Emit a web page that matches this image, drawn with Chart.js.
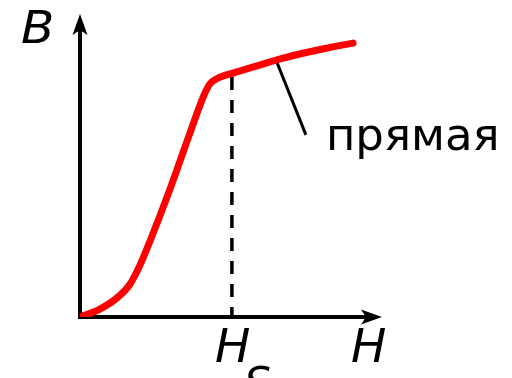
<!DOCTYPE html>
<html>
<head>
<meta charset="utf-8">
<script src="https://cdn.jsdelivr.net/npm/chart.js@4"></script>
<style>
html,body{margin:0;padding:0;background:#fff;}
#wrap{width:512px;height:378px;}
</style>
</head>
<body>
<div id="wrap"><canvas id="c" width="512" height="378"></canvas></div>
<script>
// Magnetization curve B(H), arbitrary units (0..100 on each axis)
const H_values = [0, 6.6, 12.6, 16.6, 19.9, 23.2, 29.8, 36.4, 41.1, 43.0, 45.4, 50.7, 58.3, 64.9, 72.8, 81.1, 90.4];
const B_values = [0, 2.6, 6.6, 10.9, 17.2, 25.1, 42.2, 60.7, 73.3, 76.9, 78.7, 80.5, 82.8, 84.8, 86.8, 88.6, 90.4];
const H_S = 50.3;
const B_at_HS = 79.8;
const pointerFrom = [64.9, 84.8];
const pointerTo = [74.8, 60.1];
const labelText = "прямая";
const axisLabels = { B: "B", H: "H", HS: "H", HSsub: "S" };

const curve = H_values.map((h, i) => ({ x: h, y: B_values[i] }));
const dashed = [{ x: H_S, y: 0 }, { x: H_S, y: B_at_HS }];
const pointer = [{ x: pointerFrom[0], y: pointerFrom[1] }, { x: pointerTo[0], y: pointerTo[1] }];

const axesPlugin = {
  id: 'axesArrows',
  beforeDatasetsDraw(chart) {
    const ctx = chart.ctx;
    const xs = chart.scales.x, ys = chart.scales.y;
    const x0 = xs.getPixelForValue(0), y0 = ys.getPixelForValue(0);
    const xEnd = xs.getPixelForValue(100), yEnd = ys.getPixelForValue(100);
    ctx.save();
    ctx.strokeStyle = '#000';
    ctx.fillStyle = '#000';
    ctx.lineWidth = 4;
    ctx.beginPath();
    ctx.moveTo(x0, y0 + 2);
    ctx.lineTo(x0, yEnd + 12);
    ctx.moveTo(x0 - 2, y0);
    ctx.lineTo(xEnd - 12, y0);
    ctx.stroke();
    // Y arrow
    ctx.beginPath();
    ctx.moveTo(x0, yEnd);
    ctx.lineTo(x0 + 7.5, yEnd + 21);
    ctx.lineTo(x0, yEnd + 16);
    ctx.lineTo(x0 - 7.5, yEnd + 21);
    ctx.closePath();
    ctx.fill();
    // X arrow
    ctx.beginPath();
    ctx.moveTo(xEnd, y0);
    ctx.lineTo(xEnd - 21, y0 - 7.5);
    ctx.lineTo(xEnd - 16, y0);
    ctx.lineTo(xEnd - 21, y0 + 7.5);
    ctx.closePath();
    ctx.fill();
    ctx.restore();
  },
  afterDatasetsDraw(chart) {
    const ctx = chart.ctx;
    const xs = chart.scales.x, ys = chart.scales.y;
    const x0 = xs.getPixelForValue(0), y0 = ys.getPixelForValue(0);
    const xEnd = xs.getPixelForValue(100), yEnd = ys.getPixelForValue(100);
    ctx.save();
    ctx.fillStyle = '#000';
    ctx.textBaseline = 'alphabetic';
    ctx.textAlign = 'left';
    // B label, slightly widened
    ctx.save();
    ctx.font = 'oblique 45px "DejaVu Sans"';
    ctx.translate(x0 - 59, yEnd + 29);
    ctx.scale(1.08, 1);
    ctx.fillText(axisLabels.B, 0, 0);
    ctx.restore();
    ctx.font = 'oblique 47px "DejaVu Sans"';
    ctx.fillText(axisLabels.H, xEnd - 31, y0 + 45);
    const hsx = xs.getPixelForValue(H_S);
    ctx.fillText(axisLabels.HS, hsx - 17, y0 + 45);
    const w = ctx.measureText(axisLabels.HS).width;
    ctx.font = 'oblique 42px "DejaVu Sans"';
    ctx.fillText(axisLabels.HSsub, hsx - 17 + w - 6, y0 + 80);
    ctx.font = '45px "DejaVu Sans"';
    ctx.fillText(labelText, xs.getPixelForValue(pointerTo[0]) + 20, ys.getPixelForValue(pointerTo[1]) + 15);
    ctx.restore();
  }
};

new Chart(document.getElementById('c'), {
  type: 'scatter',
  data: {
    datasets: [
      { data: dashed, showLine: true, borderColor: '#000', borderWidth: 3.5, borderDash: [13, 10], borderDashOffset: 3, pointRadius: 0, order: 3 },
      { data: pointer, showLine: true, borderColor: '#000', borderWidth: 3, pointRadius: 0, order: 2 },
      { data: curve, showLine: true, borderColor: '#ff0000', borderWidth: 7, pointRadius: 0, cubicInterpolationMode: 'monotone', borderCapStyle: 'round', borderJoinStyle: 'round', order: 1 }
    ]
  },
  options: {
    responsive: false,
    animation: false,
    layout: { padding: { left: 80, top: 14, right: 130, bottom: 61 } },
    plugins: { legend: { display: false }, tooltip: { enabled: false } },
    scales: {
      x: { type: 'linear', min: 0, max: 100, display: false },
      y: { type: 'linear', min: 0, max: 100, display: false }
    }
  },
  plugins: [axesPlugin]
});
</script>
</body>
</html>
